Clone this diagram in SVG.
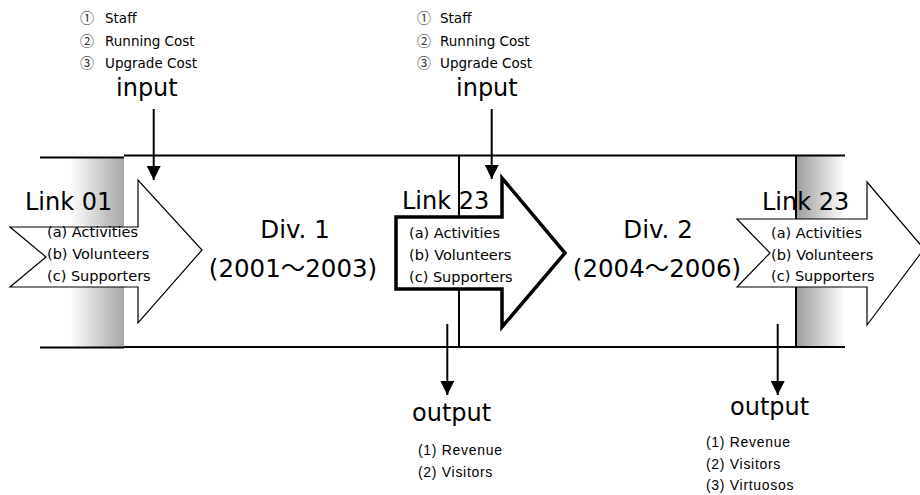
<svg xmlns="http://www.w3.org/2000/svg" width="920" height="495" viewBox="0 0 920 495">
  <style>
    .hand { font-family: "DejaVu Sans", "Noto Sans CJK JP", sans-serif; fill: #000; }
    .circ { font-family: "Noto Sans CJK JP", "DejaVu Sans", sans-serif; font-size: 14px; fill: #333; }
    .list { font-size: 13.5px; }
    .item { font-size: 14.5px; }
    .big { font-size: 24px; }
    .div { font-size: 24.5px; text-anchor: middle; }
    .plain { font-family: "Liberation Sans", Arial, sans-serif; font-size: 14px; letter-spacing: 0.7px; fill: #000; }
    .edge { stroke: #000; stroke-width: 2; fill: none; }
    .thin { stroke: #000; stroke-width: 1.2; fill: #fff; }
    .thick { stroke: #000; stroke-width: 3.5; fill: #fff; stroke-linejoin: miter; }
    .flow { stroke: #000; stroke-width: 2; fill: none; marker-end: url(#head); }
  </style>
  <defs>
    <linearGradient id="fadeIn" x1="0" y1="0" x2="1" y2="0">
      <stop offset="0" stop-color="#ffffff"/>
      <stop offset="1" stop-color="#a6a6a6"/>
    </linearGradient>
    <linearGradient id="fadeOut" x1="0" y1="0" x2="1" y2="0">
      <stop offset="0" stop-color="#9c9c9c"/>
      <stop offset="1" stop-color="#ffffff"/>
    </linearGradient>
    <marker id="head" markerWidth="7" markerHeight="7" refX="7" refY="3.5" orient="auto" markerUnits="strokeWidth">
      <path d="M0,0 L7,3.5 L0,7 Z" fill="#000"/>
    </marker>
  </defs>

  <!-- shaded hand-over bands -->
  <rect x="70" y="157" width="54" height="190" fill="url(#fadeIn)"/>
  <rect x="796" y="155" width="49" height="192" fill="url(#fadeOut)"/>

  <!-- division frames -->
  <g id="frames">
    <line class="edge" x1="40" y1="157.5" x2="124" y2="157.5"/>
    <line class="edge" x1="40" y1="347.5" x2="124" y2="347.5"/>
    <line class="edge" x1="124" y1="155.5" x2="796" y2="155.5"/>
    <line class="edge" x1="124" y1="347" x2="796" y2="347"/>
    <line class="edge" x1="796" y1="155.5" x2="845" y2="155.5"/>
    <line class="edge" x1="796" y1="347" x2="845" y2="347"/>
    <line class="edge" x1="459" y1="155.5" x2="459" y2="347"/>
    <line class="edge" x1="796" y1="155.5" x2="796" y2="347"/>
  </g>

  <g id="div1">
    <text class="hand div" x="295" y="238">Div. 1</text>
    <text class="hand div" x="293" y="277">(2001～2003)</text>
  </g>

  <g id="div2">
    <text class="hand div" x="658" y="238">Div. 2</text>
    <text class="hand div" x="657" y="277">(2004～2006)</text>
  </g>

  <!-- connectors -->
  <g id="connectors">
    <line class="flow" x1="153.7" y1="109" x2="153.7" y2="180"/>
    <line class="flow" x1="491.7" y1="109" x2="491.7" y2="179"/>
    <line class="flow" x1="447.3" y1="324" x2="447.3" y2="395"/>
    <line class="flow" x1="777.7" y1="324" x2="777.7" y2="395"/>
  </g>

  <g id="link01">
    <path class="thin" d="M10,227 H138 V180 L202,250 L138,323 V287 H10 L46,257 Z"/>
    <text class="hand big" x="25" y="210">Link 01</text>
    <text class="hand item" x="47" y="237">(a) Activities</text>
    <text class="hand item" x="47" y="259">(b) Volunteers</text>
    <text class="hand item" x="47" y="281">(c) Supporters</text>
  </g>

  <g id="link23a">
    <path class="thick" d="M396,217 H502 V178 L565,253 L502,327 V289 H396 Z"/>
    <text class="hand big" x="402" y="209">Link 23</text>
    <text class="hand item" x="409" y="238">(a) Activities</text>
    <text class="hand item" x="409" y="260">(b) Volunteers</text>
    <text class="hand item" x="409" y="282">(c) Supporters</text>
  </g>

  <g id="link23b">
    <path class="thin" d="M737,219 H867 V182 L924,249 L867,325 V287 H737 L770,253 Z"/>
    <text class="hand big" x="762" y="210">Link 23</text>
    <text class="hand item" x="771" y="238">(a) Activities</text>
    <text class="hand item" x="771" y="260">(b) Volunteers</text>
    <text class="hand item" x="771" y="281">(c) Supporters</text>
  </g>

  <g id="input1">
    <text class="circ" x="80" y="23">①</text>
    <text class="hand list" x="105" y="23">Staff</text>
    <text class="circ" x="80" y="46">②</text>
    <text class="hand list" x="105" y="46">Running Cost</text>
    <text class="circ" x="80" y="68">③</text>
    <text class="hand list" x="105" y="68">Upgrade Cost</text>
    <text class="hand big" x="116" y="96">input</text>
  </g>

  <g id="input2">
    <text class="circ" x="417" y="23">①</text>
    <text class="hand list" x="440" y="23">Staff</text>
    <text class="circ" x="417" y="46">②</text>
    <text class="hand list" x="440" y="46">Running Cost</text>
    <text class="circ" x="417" y="68">③</text>
    <text class="hand list" x="440" y="68">Upgrade Cost</text>
    <text class="hand big" x="456" y="96">input</text>
  </g>

  <g id="output1">
    <text class="hand big" x="412" y="421">output</text>
    <text class="plain" x="418" y="455">(1) Revenue</text>
    <text class="plain" x="418" y="477">(2) Visitors</text>
  </g>

  <g id="output2">
    <text class="hand big" x="730" y="415">output</text>
    <text class="plain" x="706" y="447">(1) Revenue</text>
    <text class="plain" x="706" y="469">(2) Visitors</text>
    <text class="plain" x="706" y="490">(3) Virtuosos</text>
  </g>
</svg>
